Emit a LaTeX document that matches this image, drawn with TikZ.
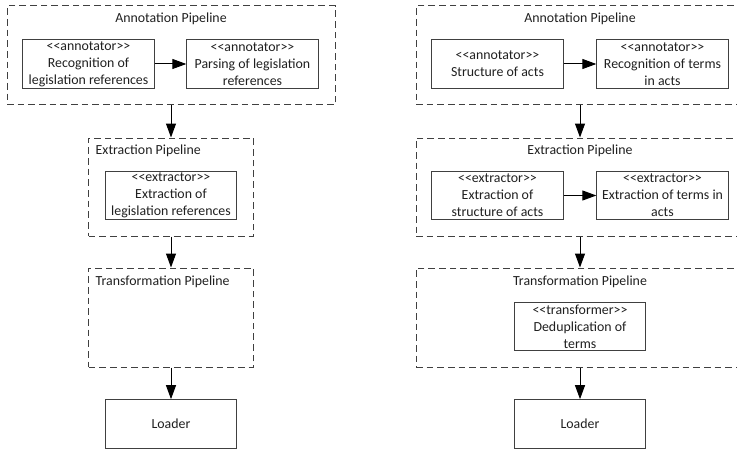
\documentclass[tikz,border=0pt]{standalone}
\usepackage{fontspec}
\setmainfont{Carlito}[Ligatures=TeXOff]
\usetikzlibrary{arrows.meta}
\definecolor{linegray}{HTML}{404040}
\definecolor{textgray}{HTML}{202020}

\begin{document}
\begin{tikzpicture}[x=0.75pt,y=-0.75pt,
  every node/.style={font=\fontsize{10.4}{12.8}\selectfont, text=textgray},
  pipe/.style n args={2}{draw=linegray, line width=0.75pt, dash pattern=on 5pt off 3pt,
    inner sep=0pt, minimum width=#1, minimum height=#2},
  comp/.style={draw=linegray, line width=0.75pt, align=center, inner sep=0pt,
    minimum width=98.5pt, minimum height=36.5pt},
  flow/.style={-{Triangle[length=10.5pt,width=7.5pt]}, line width=0.75pt}]
\clip (0,0) rectangle (737,449);

% left chain
\node[pipe={246pt}{74.25pt}] (annL) at (171,55.5) {};
\node (annLt) at (171,19) {Annotation Pipeline};
\node[comp] (recog) at (88.5,64) {<<annotator>>\\Recognition of\\legislation references};
\node[comp] (parse) at (252.5,64) {<<annotator>>\\Parsing of legislation\\references};
\draw[flow] (recog) -- (parse);

\node[pipe={123.75pt}{73.5pt}] (extL) at (171,187) {};
\node[anchor=west] (extLt) at (91,151) {Extraction Pipeline};
\node[comp] (exref) at (171,195.5) {<<extractor>>\\Extraction of\\legislation references};

\node[pipe={123.75pt}{74.25pt}] (trL) at (171,317.5) {};
\node[anchor=west] (trLt) at (91,282) {Transformation Pipeline};

\node[comp] (loadL) at (171,424) {Loader};

\draw[flow] (annL) -- (extL);
\draw[flow] (extL) -- (trL);
\draw[flow] (trL) -- (loadL);

% right chain
\node[pipe={246pt}{74.25pt}] (annR) at (580,55.5) {};
\node (annRt) at (580,19) {Annotation Pipeline};
\node[comp] (struct) at (497.5,64) {<<annotator>>\\Structure of acts};
\node[comp] (recterm) at (662.5,64) {<<annotator>>\\Recognition of terms\\in acts};
\draw[flow] (struct) -- (recterm);

\node[pipe={246pt}{73.5pt}] (extR) at (580,187) {};
\node (extRt) at (580,151) {Extraction Pipeline};
\node[comp] (exstruct) at (497.5,195.5) {<<extractor>>\\Extraction of\\structure of acts};
\node[comp] (exterm) at (662.5,195.5) {<<extractor>>\\Extraction of terms in\\acts};
\draw[flow] (exstruct) -- (exterm);

\node[pipe={246pt}{74.25pt}] (trR) at (580,317.5) {};
\node (trRt) at (580,282) {Transformation Pipeline};
\node[comp] (dedup) at (580,326.5) {<<transformer>>\\Deduplication of\\terms};

\node[comp] (loadR) at (580,424) {Loader};

\draw[flow] (annR) -- (extR);
\draw[flow] (extR) -- (trR);
\draw[flow] (trR) -- (loadR);
\end{tikzpicture}
\end{document}
